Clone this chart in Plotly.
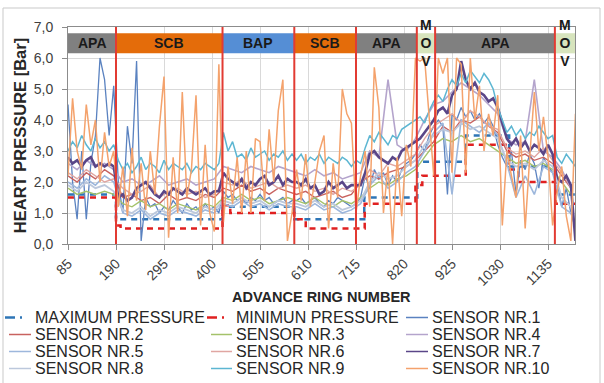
import plotly.graph_objects as go

# ---------------- data ----------------
RINGS = list(range(85, 1196, 10))      # fine sampling (112 rings)
RINGS_C = list(range(85, 1186, 20))    # coarse sampling (56 rings)

S1 = [4.5, 2.0, 0.8, 3.0, 0.8, 2.6, 3.5, 6.0, 5.3, 3.5, 5.1,
      2.0, 1.0, 3.8, 2.6, 5.9, 0.1, 1.5, 1.2, 1.3, 1.0, 1.2, 1.1, 1.4, 1.2, 1.0, 1.3, 1.1, 1.2, 1.0, 1.3, 1.1, 1.2, 1.0,
      1.7, 1.5, 1.6, 1.4, 1.5, 1.3, 1.5, 1.4, 1.6, 1.4, 1.5, 1.3, 1.4, 1.5, 1.3, 1.4,
      1.4, 1.5, 1.3, 1.4, 1.5, 1.3, 1.2, 1.4, 1.3, 1.5, 1.4, 1.3, 1.2, 1.3,
      1.5, 2.2, 1.8, 2.4, 2.1, 2.3, 1.9, 2.2, 2.0, 2.4, 2.6, 2.7, 2.9,
      3.2, 3.0, 3.5, 3.8,
      4.0, 3.8, 1.6, 4.2, 4.0, 4.4, 4.1, 4.3, 4.0, 4.2, 3.9, 4.1, 3.8, 3.2, 2.8, 2.5, 3.0, 1.6, 2.7, 2.4, 2.9, 2.6, 1.8, 2.8, 2.5, 2.3,
      2.0, 1.2, 1.8, 1.0, 0.5]

S7 = [2.8, 2.6, 2.7, 2.5, 2.7, 2.8, 2.5, 2.6, 2.5, 2.6, 2.5,
      1.5, 1.6, 1.4, 1.5, 1.8, 1.9, 2.0, 1.8, 1.6, 1.5, 1.7, 1.6, 1.8, 1.7, 1.6, 1.8, 1.7, 1.6, 1.7, 1.8, 1.6, 1.7, 1.7,
      2.3, 2.1, 2.0, 1.9, 2.1, 1.8, 2.0, 1.9, 2.1, 2.2, 1.9, 2.0, 2.2, 1.9, 2.1, 2.0,
      2.0, 1.9, 2.1, 1.8, 1.9, 1.6, 1.7, 2.0, 1.8, 1.9, 2.0, 1.8, 1.9, 1.9,
      1.9, 2.3, 2.9, 3.0, 2.8, 2.7, 2.6, 2.8, 2.7, 3.0, 3.1, 3.2, 3.3,
      3.4, 3.6, 3.8, 4.0,
      4.3, 4.4, 4.2, 4.8, 5.0, 5.9, 5.3, 5.0, 5.2, 4.9, 4.8, 4.6, 4.7, 4.4, 3.9, 3.4, 3.2, 3.4, 3.1, 3.3, 3.0, 3.2, 3.1, 2.9, 3.2, 2.9,
      2.1, 2.0, 2.2, 1.9, 0.1]

S9 = [3.0, 3.3, 3.1, 3.5, 3.2, 3.0, 3.4, 3.1, 3.3, 3.0, 3.2,
      2.7, 2.4, 2.6, 2.3, 2.5, 2.8, 2.4, 2.6, 2.5, 2.3, 2.7, 2.4, 2.6, 2.5, 2.4, 2.6, 2.3, 2.5, 2.4, 2.6, 2.5, 2.4, 2.6,
      3.6, 3.0, 3.3, 2.8, 2.9, 2.7, 3.1, 2.8, 2.9, 3.0, 2.7, 2.9, 2.8, 3.0, 2.7, 2.9,
      2.7, 2.9, 2.6, 2.8, 2.7, 2.9, 2.6, 2.8, 2.7, 2.6, 2.8, 2.7, 2.5, 2.7,
      2.6, 3.1, 3.5, 3.3, 3.6, 3.4, 3.2, 3.5, 3.4, 3.7, 3.8, 3.9, 4.0,
      4.1, 3.9, 4.3, 4.6,
      4.8, 4.6, 5.0, 5.3, 5.1, 5.5, 5.2, 5.6, 5.4, 5.2, 5.5, 5.3, 5.0, 4.4, 4.0, 3.6, 3.8, 3.5, 3.7, 3.4, 3.6, 3.5, 3.8, 3.6, 3.4, 3.5,
      2.8, 2.6, 2.9, 2.7, 2.5]

S10 = [2.2, 4.7, 3.0, 2.4, 4.5, 3.2, 4.0, 2.0, 3.6, 2.5, 3.0,
       1.2, 2.5, 0.9, 3.1, 1.4, 2.6, 1.1, 3.0, 1.6, 3.8, 5.4, 0.2, 2.8, 1.0, 4.9, 1.5, 2.4, 4.8, 0.6, 3.2, 1.0, 0.4, 5.8,
       0.7, 2.5, 1.3, 2.8, 1.0, 3.0, 1.0, 3.4, 3.3, 1.4, 3.7, 2.0, 4.3, 5.3, 0.1, 1.0,
       2.4, 1.4, 2.9, 1.2, 2.0, 3.0, 3.5, 0.5, 2.6, 1.5, 5.0, 4.2, 3.9, 1.0,
       2.2, 3.0, 1.2, 5.7, 4.4, 1.0, 2.5, 0.0, 2.8, 0.9, 3.2, 2.5, 6.0,
       5.9, 6.0, 4.0, 2.2,
       6.0, 5.5, 6.0, 2.3, 6.0, 5.8, 2.3, 6.0, 4.0, 5.1, 3.0, 4.2, 3.5, 4.8, 0.6, 3.0, 2.2, 1.5, 3.5, 0.5, 2.8, 4.9, 3.0, 4.1, 2.8, 0.6,
       1.7, 2.5, 0.9, 0.1, 4.2]

S2 = [2.2, 2.0, 2.3, 2.1, 2.4, 2.2,
      1.5, 1.6, 1.4, 1.5, 1.3, 1.6, 1.4, 1.5, 1.4, 1.6, 1.5,
      1.8, 1.7, 1.9, 1.7, 1.8, 1.6, 1.8, 1.7,
      1.6, 1.7, 1.5, 1.6, 1.7, 1.5, 1.6,
      2.0, 2.2, 2.1, 2.3, 2.4, 2.5, 2.7,
      3.0, 3.3,
      3.8, 3.6, 4.0, 3.9, 4.1, 3.8, 3.6, 3.0, 2.8, 2.9, 2.7, 2.8, 2.6,
      2.2, 1.8]
S3 = [1.8, 1.6, 1.7, 1.6, 1.7, 1.6,
      1.3, 1.2, 1.4, 1.2, 1.3, 1.1, 1.3, 1.2, 1.1, 1.3, 1.2,
      1.5, 1.4, 1.6, 1.4, 1.5, 1.3, 1.4, 1.5,
      1.4, 1.3, 1.5, 1.3, 1.2, 1.4, 1.3,
      1.5, 1.8, 2.0, 1.9, 2.1, 2.2, 2.4,
      2.8, 3.2,
      3.4, 3.3, 3.5, 3.3, 3.4, 3.2, 3.0, 2.8, 2.6, 2.7, 2.5, 2.6, 2.4,
      2.0, 1.6]
S4 = [2.6, 2.4, 2.7, 2.5, 2.6, 2.4,
      2.0, 2.1, 1.9, 2.0, 2.2, 1.9, 2.0, 2.1, 1.9, 2.0, 2.1,
      2.5, 2.4, 2.3, 2.5, 2.4, 2.3, 2.5, 2.4,
      2.3, 2.2, 2.4, 2.2, 2.3, 2.1, 2.2,
      2.3, 3.0, 2.8, 5.3, 3.2, 3.0, 3.4,
      4.0, 4.5,
      4.6, 4.9, 5.2, 5.0, 4.8, 4.5, 4.2, 3.4, 3.2, 3.3, 5.3, 3.0, 2.8,
      2.4, 1.8]
S5 = [2.0, 1.8, 2.1, 1.9, 2.2, 2.0,
      1.0, 0.9, 1.1, 0.8, 1.0, 0.9, 1.1, 1.0, 0.9, 1.1, 1.0,
      1.3, 1.2, 1.4, 1.2, 1.3, 1.1, 1.3, 1.2,
      1.2, 1.1, 1.3, 1.1, 1.2, 1.0, 1.1,
      1.3, 1.9, 2.2, 1.8, 2.0, 2.3, 2.5,
      3.0, 3.6,
      3.9, 1.6, 4.0, 3.8, 3.6, 3.9, 3.5, 2.6, 1.5, 2.2, 1.6, 2.5, 2.3,
      1.2, 1.0]
S6 = [2.3, 2.1, 2.4, 2.2, 2.0, 2.1,
      1.8, 1.6, 1.7, 1.9, 1.5, 1.7, 1.8, 1.6, 1.7, 1.5, 1.6,
      2.0, 1.9, 2.1, 1.8, 1.9, 2.0, 1.8, 1.9,
      1.8, 1.9, 1.7, 1.8, 1.6, 1.8, 1.7,
      1.9, 2.4, 2.2, 2.6, 2.5, 2.7, 2.9,
      3.4, 3.8,
      4.0, 4.2, 3.9, 4.3, 4.1, 3.8, 3.7, 3.1, 2.9, 3.0, 2.8, 3.1, 2.7,
      2.3, 1.9]
S8 = [1.9, 1.7, 2.0, 1.8, 1.9, 1.7,
      1.1, 1.0, 1.2, 0.9, 1.1, 1.0, 1.2, 1.1, 1.0, 1.2, 1.1,
      1.4, 1.3, 1.5, 1.3, 1.4, 1.2, 1.4, 1.3,
      1.3, 1.2, 1.4, 1.2, 1.3, 1.1, 1.2,
      1.4, 2.0, 2.3, 2.1, 2.2, 2.5, 2.7,
      3.2, 3.5,
      3.7, 3.6, 3.9, 3.7, 3.8, 3.6, 3.4, 2.7, 2.5, 2.6, 2.4, 2.7, 2.5,
      1.5, 1.2]

# design pressure limits (step lines)
MAX_RINGS = [85, 190, 423, 580, 733, 849, 955, 1050, 1152, 1195]
MAX_VALS = [1.6, 0.8, 1.2, 0.8, 1.5, 2.65, 3.5, 2.5, 1.6, 1.6]
MIN_RINGS = [85, 190, 200, 423, 440, 580, 605, 734, 845, 860, 955, 1050, 1070, 1152, 1195]
MIN_VALS = [1.5, 0.6, 0.5, 1.25, 1.0, 0.8, 0.5, 1.3, 1.9, 2.2, 3.2, 2.4, 2.0, 1.3, 1.3]

# excavation zones
ZONE_NAMES = ["APA", "SCB", "BAP", "SCB", "APA", "M<br>O<br>V", "APA", "M<br>O<br>V"]
ZONE_START = [85, 190, 423, 580, 715, 848, 888, 1150]
ZONE_END = [190, 423, 580, 715, 848, 888, 1150, 1194]
ZONE_COLORS = ["#808080", "#E46C0A", "#558ED5", "#E46C0A", "#808080", "#D7E4BD", "#808080", "#D7E4BD"]
BOUNDARIES = [190, 423, 580, 715, 848, 888, 1150]

X_TICKS = [85, 190, 295, 400, 505, 610, 715, 820, 925, 1030, 1135]

# ---------------- figure ----------------
FONT = "Liberation Sans, Arial, sans-serif"
W, H = 604, 383
ML, MR, MT, MB = 68, 29, 27, 139
PW, PH = W - ML - MR, H - MT - MB


def px(xp):
    return (xp - ML) / PW


def py(yp):
    return (H - MB - yp) / PH


fig = go.Figure()

series = [
    ("MAXIMUM PRESSURE", MAX_RINGS, MAX_VALS, "#2E75B6", 2.5, "6px,5px", "hv"),
    ("MINIMUN PRESSURE", MIN_RINGS, MIN_VALS, "#E02020", 2.5, "6px,5px", "hv"),
    ("SENSOR NR.1", RINGS, S1, "#5A82C0", 1.3, "solid", "linear"),
    ("SENSOR NR.2", RINGS_C, S2, "#C8625F", 1.4, "solid", "linear"),
    ("SENSOR NR.3", RINGS_C, S3, "#A4C26A", 1.4, "solid", "linear"),
    ("SENSOR NR.4", RINGS_C, S4, "#B4A4CC", 1.6, "solid", "linear"),
    ("SENSOR NR.5", RINGS_C, S5, "#9DB7DC", 1.6, "solid", "linear"),
    ("SENSOR NR.6", RINGS_C, S6, "#E0A6A2", 1.4, "solid", "linear"),
    ("SENSOR NR.7", RINGS, S7, "#5A4688", 2.6, "solid", "linear"),
    ("SENSOR NR.8", RINGS_C, S8, "#BCC8DC", 1.8, "solid", "linear"),
    ("SENSOR NR.9", RINGS, S9, "#5CB6D2", 1.5, "solid", "linear"),
    ("SENSOR NR.10", RINGS, S10, "#F4A26C", 1.5, "solid", "linear"),
]

for name, xs, ys, col, w, dash, shape in series:
    fig.add_trace(go.Scatter(x=xs, y=ys, name=name, mode="lines", showlegend=False,
                             line=dict(color=col, width=w, dash=dash, shape=shape)))

shapes = []
annotations = []

# zone bands
for nm, x0, x1, c in zip(ZONE_NAMES, ZONE_START, ZONE_END, ZONE_COLORS):
    shapes.append(dict(type="rect", xref="x", yref="y", x0=x0, x1=x1, y0=6.15, y1=6.8,
                       fillcolor=c, line=dict(width=0), layer="above"))
    annotations.append(dict(x=(x0 + x1) / 2, y=6.475, xref="x", yref="y", text="<b>%s</b>" % nm,
                            showarrow=False, font=dict(family=FONT, size=14, color="#1a1a1a"),
                            xanchor="center", yanchor="middle"))

# zone boundary lines
for b in BOUNDARIES:
    shapes.append(dict(type="line", xref="x", yref="y", x0=b, x1=b, y0=0, y1=7,
                       line=dict(color="#E23B33", width=2), layer="above"))

# outer chart frame
shapes.append(dict(type="rect", xref="paper", yref="paper", x0=px(3), x1=px(600), y0=py(395), y1=py(8),
                   line=dict(color="#C9C9C9", width=1), fillcolor="rgba(0,0,0,0)", layer="below"))

# legend (manual, 3 columns)
COL_TEXT = [33, 234, 430]
COL_LINE = [(9, 31), (211, 232), (406, 428)]
ROW_Y = [317.5, 334.5, 351.5, 368.5]
for i, (name, xs, ys, col, w, dash, shape) in enumerate(series):
    c, r = i % 3, i // 3
    yv = py(ROW_Y[r])
    x0, x1 = COL_LINE[c]
    if i < 2:
        shapes.append(dict(type="line", xref="paper", yref="paper", x0=px(x0 - 4), x1=px(x1 - 8),
                           y0=yv, y1=yv, line=dict(color=col, width=2.5, dash="10px,5px,2px,30px")))
    else:
        shapes.append(dict(type="line", xref="paper", yref="paper", x0=px(x0), x1=px(x1),
                           y0=yv, y1=yv, line=dict(color=col, width=1.5)))
    annotations.append(dict(x=px(COL_TEXT[c]), y=yv, xref="paper", yref="paper", text=name,
                            showarrow=False, xanchor="left", yanchor="middle",
                            font=dict(family=FONT, size=16, color="#262626")))

# x axis title (placed below the rotated tick labels)
annotations.append(dict(x=0.5, y=py(297), xref="paper", yref="paper",
                        text="<b>ADVANCE RING NUMBER</b>", showarrow=False,
                        xanchor="center", yanchor="middle",
                        font=dict(family=FONT, size=14.5, color="#262626")))

fig.update_layout(
    width=W, height=H,
    margin=dict(l=ML, r=MR, t=MT, b=MB, autoexpand=False),
    paper_bgcolor="white", plot_bgcolor="white",
    separators=",.",
    showlegend=False,
    shapes=shapes, annotations=annotations,
    font=dict(family=FONT, color="#404040"),
    yaxis=dict(range=[0, 7], dtick=1, tickformat=".1f",
               tickfont=dict(family=FONT, size=14, color="#404040"),
               showgrid=True, gridcolor="#D9D9D9", gridwidth=1, zeroline=False,
               showline=True, linecolor="#8C8C8C", mirror=True,
               ticks="outside", ticklen=5, tickcolor="#8C8C8C", ticklabelstandoff=6,
               title=dict(text="<b>HEART PRESSURE [Bar]</b>", standoff=2,
                          font=dict(family=FONT, size=16.5, color="#262626"))),
)
fig.update_xaxes(range=[85, 1194], tickmode="array", tickvals=X_TICKS,
                 tickfont=dict(family=FONT, size=14, color="#404040"),
                 showgrid=True, gridcolor="#D9D9D9", gridwidth=1, zeroline=False,
                 showline=True, linecolor="#8C8C8C", mirror=True,
                 ticks="outside", ticklen=5, tickcolor="#8C8C8C")
fig.update_xaxes(tickangle=-45)

fig.write_html("out.html", config={"displayModeBar": False},
               post_script="document.body.style.margin='0';")
